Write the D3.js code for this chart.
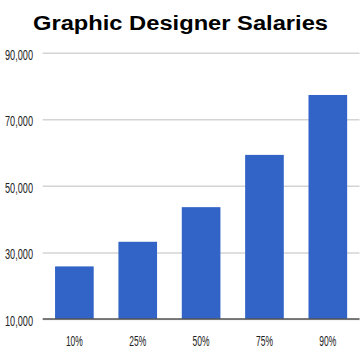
<!DOCTYPE html>
<html><head><meta charset="utf-8">
<script src="https://cdn.jsdelivr.net/npm/d3@7"></script>
<style>
html,body{margin:0;padding:0;background:#fff;}
svg{display:block;}
</style></head>
<body>
<svg id="c" width="364" height="358"></svg>
<script>
const categories = ["10%", "25%", "50%", "75%", "90%"];
const salaries = [25800, 33200, 43600, 59300, 77300];
const yTicks = [10000, 30000, 50000, 70000, 90000];
const title = "Graphic Designer Salaries";

const svg = d3.select("#c");
const W = 364, H = 358;
const m = {left: 42.7, right: 4.5, top: 52.7, bottom: 39};
const x = d3.scaleBand().domain(categories).range([m.left, W - m.right]).paddingInner(0.39).paddingOuter(0.195);
const y = d3.scaleLinear().domain([10000, 90000]).range([H - m.bottom, m.top]);

svg.append("text").attr("x", 180.5).attr("y", 29.5).attr("text-anchor", "middle")
  .attr("font-family", "Liberation Sans, Arial, sans-serif").attr("font-weight", "bold")
  .attr("font-size", 20).attr("fill", "#000")
  .attr("textLength", 295).attr("lengthAdjust", "spacingAndGlyphs").text(title);

const yAxis = d3.axisLeft(y).tickValues(yTicks).tickFormat(d3.format(",")).tickSize(-(W - m.right - m.left));
const gy = svg.append("g").attr("transform", `translate(${m.left},0)`).call(yAxis);
gy.select(".domain").remove();
gy.selectAll(".tick line").attr("stroke", "#d4d4d4").attr("stroke-width", 1.5);
gy.selectAll(".tick text").attr("font-family", "Liberation Sans, Arial, sans-serif")
  .attr("font-size", 14).attr("fill", "#222")
  .attr("x", -9.7).attr("dy", null).attr("y", 6.5)
  .attr("textLength", 28).attr("lengthAdjust", "spacingAndGlyphs");

svg.append("g").selectAll("rect").data(salaries).join("rect")
  .attr("x", (d, i) => x(categories[i])).attr("width", x.bandwidth())
  .attr("y", d => y(d)).attr("height", d => y(10000) - y(d))
  .attr("fill", "#3264c8");

const xAxis = d3.axisBottom(x).tickSize(0);
const gx = svg.append("g").attr("transform", `translate(0,${y(10000)})`).call(xAxis);
gx.select(".domain").remove();
gx.selectAll(".tick text").attr("font-family", "Liberation Sans, Arial, sans-serif")
  .attr("font-size", 15).attr("fill", "#222")
  .attr("dy", null).attr("y", 26.8)
  .attr("textLength", 17).attr("lengthAdjust", "spacingAndGlyphs");

svg.append("line").attr("x1", m.left).attr("x2", W - m.right)
  .attr("y1", y(10000)).attr("y2", y(10000)).attr("stroke", "#555").attr("stroke-width", 1.5);
</script>
</body></html>
